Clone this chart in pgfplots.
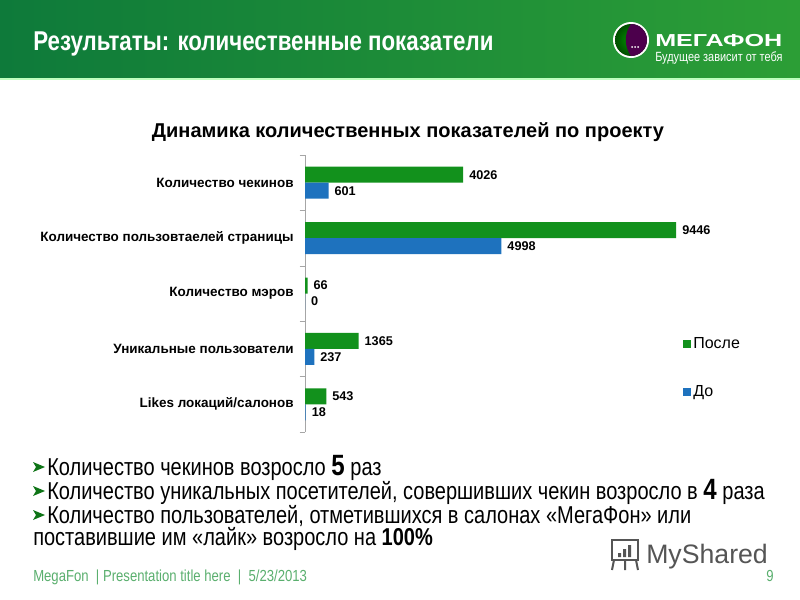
\documentclass[border=0pt]{standalone}
\usepackage{pgfplots}
\pgfplotsset{compat=1.18}
\usepackage{fontspec}
\setmainfont{Liberation Sans}
\newfontfamily\narrow[FakeStretch=0.82]{Liberation Sans}
\newfontfamily\wide[FakeStretch=1.45]{Liberation Sans}
\definecolor{hdrL}{RGB}{14,122,58}
\definecolor{hdrR}{RGB}{44,158,54}
\definecolor{barG}{RGB}{18,145,28}
\definecolor{barB}{RGB}{30,114,190}
\definecolor{foot}{RGB}{90,175,110}
\definecolor{wm}{RGB}{85,85,85}
\begin{document}
\begin{tikzpicture}[x=0.75pt,y=-0.75pt]
\path[use as bounding box, fill=white] (0,0) rectangle (800,600);
% header
\shade[left color=hdrL, right color=hdrR] (0,0) rectangle (800,78);
\fill[green!25!white] (0,78) rectangle (800,80);
\node[anchor=base west, inner sep=0, text=white, font=\narrow\bfseries\fontsize{20.4}{22}\selectfont] at (33,50) {Результаты: количественные показатели};
% logo
\fill[white] (631,40) circle (18);
\shade[inner color=green!60!black, outer color=green!30!black] (631,40) circle (16);
\fill[violet!60!black] (631,24) arc (-90:90:16) .. controls (624,46) and (624,34) .. (631,24);
\foreach \i in {0,1,2} \fill[white] (632+3*\i,47) circle (1);
\node[anchor=base west, inner sep=0, text=white, font=\wide\bfseries\fontsize{13}{15}\selectfont] at (655,46) {МЕГАФОН};
\node[anchor=base west, inner sep=0, text=white, font=\narrow\fontsize{10}{12}\selectfont] at (655,61) {Будущее зависит от тебя};
% chart title
\node[font=\bfseries\fontsize{15}{17}\selectfont] at (408,132) {Динамика количественных показателей по проекту};
\begin{axis}[
  at={(228.75pt,-324pt)}, anchor=south west,
  scale only axis, width=294.75pt, height=207.75pt,
  xbar, bar width=12pt,
  xmin=0, xmax=10000, ymin=-0.5, ymax=4.5,
  axis x line=none, axis y line*=left,
  y axis line style={gray!70, -},
  ytick={0,...,4},
  yticklabels={Likes локаций/салонов, Уникальные пользователи, Количество мэров, Количество пользовтаелей страницы, Количество чекинов},
  major tick length=0pt,
  minor ytick={-0.5,0.5,...,4.5}, minor tick length=4pt, tick align=outside,
  minor tick style={gray!70},
  yticklabel style={font=\bfseries\fontsize{10.1}{12}\selectfont, xshift=-5pt},
  nodes near coords, point meta=x,
  nodes near coords style={font=\bfseries\fontsize{9.5}{11}\selectfont, anchor=west, xshift=1pt},
  /pgf/number format/1000 sep={}, /pgf/number format/assume math mode=true,
  clip=false,
  legend style={at={(0.95,0.36)}, anchor=north west, draw=none, fill=none,
    font=\fontsize{12}{14}\selectfont, row sep=22pt, cells={anchor=west}},
  legend image code/.code={\fill[#1] (0pt,-3pt) rectangle (6pt,3pt);},
]
\addplot[fill=barG, draw=none, bar shift=6pt] coordinates {(4026,4) (9446,3) (66,2) (1365,1) (543,0)};
\addlegendentry{После}
\addplot[fill=barB, draw=none, bar shift=-6pt] coordinates {(601,4) (4998,3) (0,2) (237,1) (18,0)};
\addlegendentry{До}
\end{axis}
% bullets
\foreach \yy in {467,491,515} \fill[barG!80!black] (33,\yy-5) -- (45,\yy) -- (33,\yy+5) -- (36,\yy) -- cycle;
\begin{scope}[every node/.style={anchor=base west, inner sep=0, font=\narrow\fontsize{18.3}{20}\selectfont}]
\node at (47,475) {Количество чекинов возросло {\bfseries\fontsize{22}{24}\selectfont 5} раз};
\node at (47,499) {Количество уникальных посетителей, совершивших чекин возросло в {\bfseries\fontsize{22}{24}\selectfont 4} раза};
\node at (47,523) {Количество пользователей, отметившихся в салонах «МегаФон» или};
\node at (33,545) {поставившие им «лайк» возросло на \textbf{100\%}};
\end{scope}
% watermark
\draw[wm, line width=1.5] (612,540) rectangle (638,560);
\draw[wm, line width=1.5] (614,560) -- (612,570) (625,560) -- (625,570) (636,560) -- (638,570);
\fill[wm] (618,553) rectangle (621,557) (623,549) rectangle (626,557) (628,545) rectangle (631,557);
\node[anchor=base west, inner sep=0, text=wm, font=\fontsize{20}{22}\selectfont] at (646,563) {MyShared};
% footer
\node[anchor=base west, inner sep=0, text=foot, font=\narrow\fontsize{12}{14}\selectfont] at (33,581) {MegaFon \ | Presentation title here \ | \ 5/23/2013};
\node[anchor=base west, inner sep=0, text=foot, font=\narrow\fontsize{12}{14}\selectfont] at (766,581) {9};
\end{tikzpicture}
\end{document}
